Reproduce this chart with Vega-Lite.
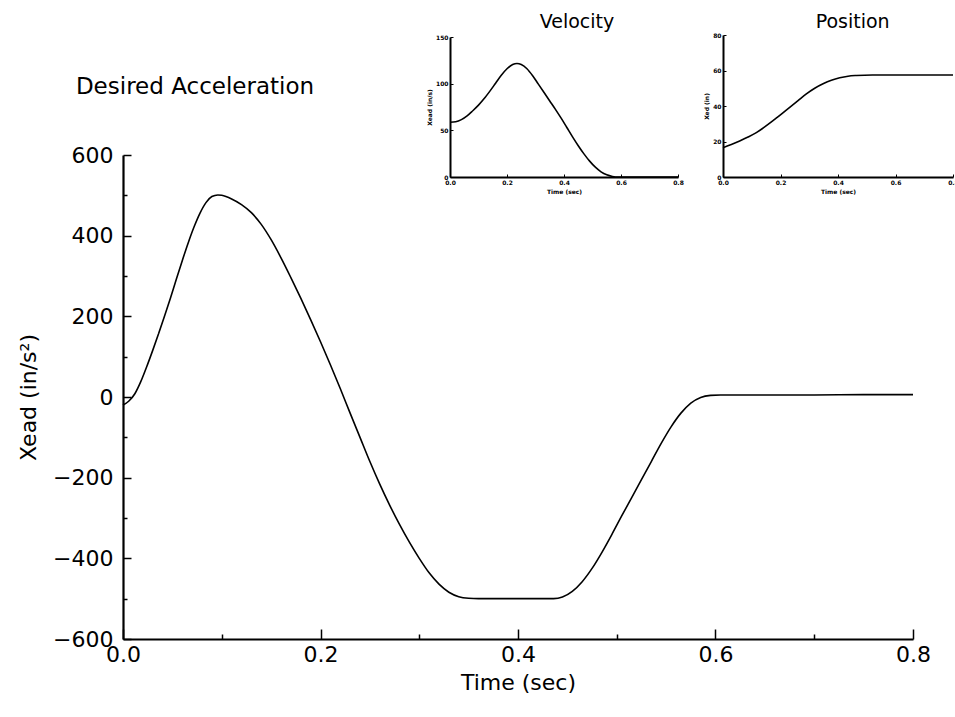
{
  "$schema": "https://vega.github.io/schema/vega-lite/v6.json",
  "width": 790,
  "height": 484,
  "autosize": "none",
  "padding": {"left": 123, "top": 155, "right": 42, "bottom": 78},
  "background": "white",
  "config": {
    "view": {"stroke": null},
    "axis": {"grid": false, "domainColor": "black", "tickColor": "black", "labelColor": "black", "titleColor": "black", "labelFont": "DejaVu Sans", "titleFont": "DejaVu Sans", "labelFlush": false, "labelOverlap": false},
    "text": {"font": "DejaVu Sans", "color": "black"}
  },
  "resolve": {"scale": {"x": "independent", "y": "independent"}, "axis": {"x": "independent", "y": "independent"}},
  "layer": [
    {
      "layer": [
        {
          "data": {"values": [
            {"t": 0.000, "a": -20}, {"t": 0.006, "a": -10}, {"t": 0.012, "a": 8}, {"t": 0.018, "a": 38},
            {"t": 0.024, "a": 75}, {"t": 0.030, "a": 115}, {"t": 0.036, "a": 157}, {"t": 0.042, "a": 200},
            {"t": 0.048, "a": 245}, {"t": 0.054, "a": 292}, {"t": 0.060, "a": 338}, {"t": 0.066, "a": 382},
            {"t": 0.072, "a": 422}, {"t": 0.078, "a": 456}, {"t": 0.084, "a": 482}, {"t": 0.090, "a": 497},
            {"t": 0.096, "a": 501}, {"t": 0.100, "a": 500}, {"t": 0.110, "a": 491}, {"t": 0.120, "a": 477},
            {"t": 0.130, "a": 457}, {"t": 0.140, "a": 428}, {"t": 0.150, "a": 390}, {"t": 0.160, "a": 345},
            {"t": 0.170, "a": 296}, {"t": 0.180, "a": 245}, {"t": 0.190, "a": 192}, {"t": 0.200, "a": 137},
            {"t": 0.210, "a": 80}, {"t": 0.220, "a": 21}, {"t": 0.230, "a": -40}, {"t": 0.240, "a": -100},
            {"t": 0.250, "a": -160}, {"t": 0.260, "a": -216}, {"t": 0.270, "a": -268}, {"t": 0.280, "a": -316},
            {"t": 0.290, "a": -360}, {"t": 0.300, "a": -400}, {"t": 0.310, "a": -436}, {"t": 0.320, "a": -464},
            {"t": 0.330, "a": -484}, {"t": 0.340, "a": -495}, {"t": 0.350, "a": -499}, {"t": 0.360, "a": -500},
            {"t": 0.380, "a": -500}, {"t": 0.400, "a": -500}, {"t": 0.420, "a": -500}, {"t": 0.436, "a": -500},
            {"t": 0.445, "a": -496}, {"t": 0.455, "a": -482}, {"t": 0.465, "a": -458}, {"t": 0.475, "a": -425},
            {"t": 0.485, "a": -385}, {"t": 0.495, "a": -341}, {"t": 0.505, "a": -295}, {"t": 0.515, "a": -250},
            {"t": 0.525, "a": -205}, {"t": 0.535, "a": -160}, {"t": 0.545, "a": -115}, {"t": 0.555, "a": -74},
            {"t": 0.565, "a": -40}, {"t": 0.575, "a": -15}, {"t": 0.585, "a": -1}, {"t": 0.595, "a": 4},
            {"t": 0.605, "a": 5}, {"t": 0.650, "a": 5}, {"t": 0.700, "a": 5}, {"t": 0.750, "a": 6},
            {"t": 0.800, "a": 6}
          ]},
          "mark": {"type": "line", "color": "black", "strokeWidth": 1.6, "interpolate": "monotone"},
          "encoding": {
            "x": {"field": "t", "type": "quantitative",
              "scale": {"domain": [0, 0.8], "nice": false, "zero": false},
              "axis": {"orient": "bottom", "values": [0, 0.1, 0.2, 0.3, 0.4, 0.5, 0.6, 0.7, 0.8],
                "labelExpr": "round(datum.value*10) % 2 === 0 ? format(datum.value, '.1f') : ''",
                "tickSize": {"condition": {"test": "round(datum.value*10) % 2 === 0", "value": -10}, "value": -5},
                "tickWidth": 1.5, "domainWidth": 2.2, "labelFontSize": 22, "labelPadding": 15,
                "title": "Time (sec)", "titleFontSize": 22, "titleFontWeight": "normal", "titlePadding": 2}},
            "y": {"field": "a", "type": "quantitative",
              "scale": {"domain": [-600, 600], "nice": false, "zero": false},
              "axis": {"orient": "left", "values": [-600, -500, -400, -300, -200, -100, 0, 100, 200, 300, 400, 500, 600],
                "labelExpr": "datum.value % 200 === 0 ? format(datum.value, 'd') : ''",
                "tickSize": {"condition": {"test": "datum.value % 200 === 0", "value": -8}, "value": -4},
                "tickWidth": 1.5, "domainWidth": 2.2, "labelFontSize": 22, "labelPadding": 18,
                "title": "Xead (in/s²)", "titleFontSize": 22, "titleFontWeight": "normal", "titlePadding": 12}}
          }
        },
        {
          "data": {"values": [{"label": "Desired Acceleration"}]},
          "mark": {"type": "text", "fontSize": 23, "align": "center", "baseline": "middle"},
          "encoding": {
            "text": {"field": "label", "type": "nominal"},
            "x": {"datum": 0.0729, "type": "quantitative"},
            "y": {"datum": 769, "type": "quantitative"}
          }
        }
      ]
    },
    {
      "layer": [
        {
          "data": {"values": [
            {"t": 0.000, "v": 58.6}, {"t": 0.02, "v": 59.2}, {"t": 0.04, "v": 61.5}, {"t": 0.06, "v": 65.5},
            {"t": 0.08, "v": 71}, {"t": 0.10, "v": 77}, {"t": 0.12, "v": 84}, {"t": 0.14, "v": 92},
            {"t": 0.16, "v": 100.5}, {"t": 0.18, "v": 109}, {"t": 0.20, "v": 116}, {"t": 0.22, "v": 120.5},
            {"t": 0.235, "v": 121.6}, {"t": 0.25, "v": 120.5}, {"t": 0.27, "v": 116}, {"t": 0.29, "v": 108.5},
            {"t": 0.31, "v": 99.5}, {"t": 0.33, "v": 90.5}, {"t": 0.35, "v": 81.5}, {"t": 0.37, "v": 72.5},
            {"t": 0.39, "v": 63}, {"t": 0.41, "v": 53}, {"t": 0.43, "v": 43}, {"t": 0.45, "v": 33.5},
            {"t": 0.47, "v": 24.8}, {"t": 0.49, "v": 17}, {"t": 0.51, "v": 10.5}, {"t": 0.53, "v": 5.5},
            {"t": 0.55, "v": 2.3}, {"t": 0.57, "v": 0.6}, {"t": 0.59, "v": 0}, {"t": 0.7, "v": 0},
            {"t": 0.8, "v": 0}
          ]},
          "mark": {"type": "line", "color": "black", "strokeWidth": 1.6, "interpolate": "monotone"},
          "encoding": {
            "x": {"field": "t", "type": "quantitative",
              "scale": {"domain": [0, 0.8], "range": [327, 555], "nice": false, "zero": false},
              "axis": {"orient": "bottom", "offset": -462, "values": [0, 0.2, 0.4, 0.6, 0.8], "format": ".1f",
                "tickSize": -3, "tickWidth": 1, "domainWidth": 2, "labelFontSize": 6, "labelFontWeight": "bold", "labelPadding": 5,
                "title": "Time (sec)", "titleFontSize": 6, "titleFontWeight": "bold", "titlePadding": 3}},
            "y": {"field": "v", "type": "quantitative",
              "scale": {"domain": [0, 150], "range": [22, -118], "nice": false, "zero": false},
              "axis": {"orient": "left", "offset": -327, "values": [0, 50, 100, 150], "format": "d",
                "tickSize": -3, "tickWidth": 1, "domainWidth": 2, "labelFontSize": 6, "labelFontWeight": "bold", "labelPadding": 5,
                "title": "Xead (in/s)", "titleFontSize": 6, "titleFontWeight": "bold", "titlePadding": 3}}
          }
        },
        {
          "data": {"values": [{"label": "Velocity"}]},
          "mark": {"type": "text", "fontSize": 19, "align": "center", "baseline": "middle"},
          "encoding": {
            "text": {"field": "label", "type": "nominal"},
            "x": {"datum": 0.4456, "type": "quantitative"},
            "y": {"datum": 166, "type": "quantitative"}
          }
        }
      ]
    },
    {
      "layer": [
        {
          "data": {"values": [
            {"t": 0.000, "p": 16.5}, {"t": 0.029, "p": 18.3}, {"t": 0.058, "p": 20.3}, {"t": 0.087, "p": 22.5},
            {"t": 0.116, "p": 25}, {"t": 0.145, "p": 28.2}, {"t": 0.174, "p": 31.7}, {"t": 0.203, "p": 35.4},
            {"t": 0.232, "p": 39.2}, {"t": 0.261, "p": 43}, {"t": 0.29, "p": 46.8}, {"t": 0.319, "p": 50},
            {"t": 0.348, "p": 52.5}, {"t": 0.377, "p": 54.5}, {"t": 0.406, "p": 55.9}, {"t": 0.435, "p": 56.8},
            {"t": 0.464, "p": 57.2}, {"t": 0.52, "p": 57.5}, {"t": 0.6, "p": 57.5}, {"t": 0.7, "p": 57.5},
            {"t": 0.8, "p": 57.5}
          ]},
          "mark": {"type": "line", "color": "black", "strokeWidth": 1.6, "interpolate": "monotone"},
          "encoding": {
            "x": {"field": "t", "type": "quantitative",
              "scale": {"domain": [0, 0.8], "range": [600, 830], "nice": false, "zero": false},
              "axis": {"orient": "bottom", "offset": -462, "values": [0, 0.2, 0.4, 0.6, 0.8], "format": ".1f",
                "tickSize": -3, "tickWidth": 1, "domainWidth": 2, "labelFontSize": 6, "labelFontWeight": "bold", "labelPadding": 5,
                "title": "Time (sec)", "titleFontSize": 6, "titleFontWeight": "bold", "titlePadding": 3}},
            "y": {"field": "p", "type": "quantitative",
              "scale": {"domain": [0, 80], "range": [22, -120], "nice": false, "zero": false},
              "axis": {"orient": "left", "offset": -600, "values": [0, 20, 40, 60, 80], "format": "d",
                "tickSize": -3, "tickWidth": 1, "domainWidth": 2, "labelFontSize": 6, "labelFontWeight": "bold", "labelPadding": 5,
                "title": "Xed (in)", "titleFontSize": 6, "titleFontWeight": "bold", "titlePadding": 3}}
          }
        },
        {
          "data": {"values": [{"label": "Position"}]},
          "mark": {"type": "text", "fontSize": 19, "align": "center", "baseline": "middle"},
          "encoding": {
            "text": {"field": "label", "type": "nominal"},
            "x": {"datum": 0.451, "type": "quantitative"},
            "y": {"datum": 87.3, "type": "quantitative"}
          }
        }
      ]
    }
  ]
}
